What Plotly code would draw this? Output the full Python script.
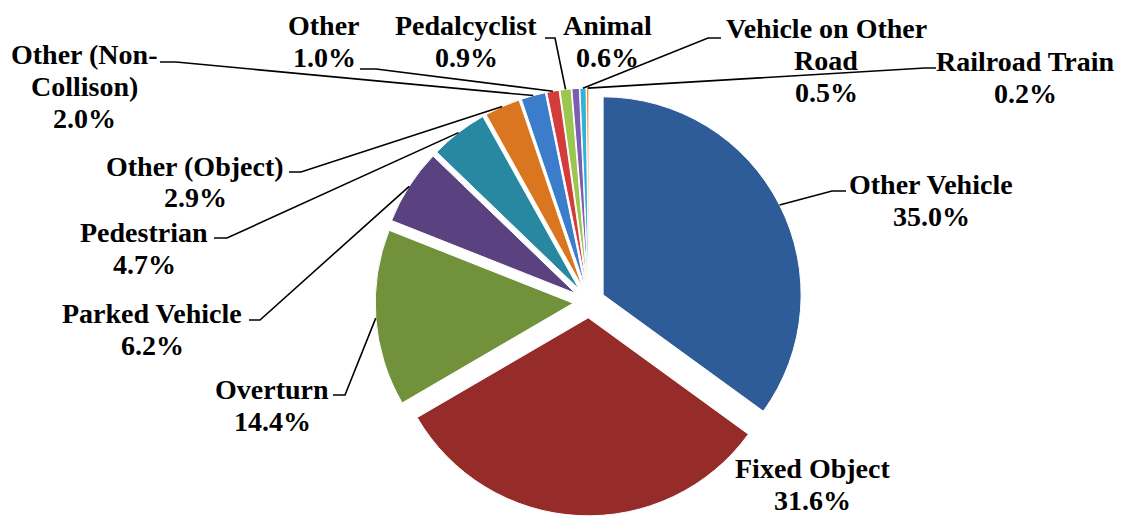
import numpy as np
import plotly.graph_objects as go

# data
categories = ["Other Vehicle", "Fixed Object", "Overturn", "Parked Vehicle", "Pedestrian",
              "Other (Object)", "Other (Non-Collison)", "Other", "Pedalcyclist", "Animal",
              "Vehicle on Other Road", "Railroad Train"]
shares = [35.0, 31.6, 14.4, 6.2, 4.7, 2.9, 2.0, 1.0, 0.9, 0.6, 0.5, 0.2]

# label text as it is wrapped in the original
label_lines = [["Other Vehicle"], ["Fixed Object"], ["Overturn"], ["Parked Vehicle"],
               ["Pedestrian"], ["Other (Object)"], ["Other (Non-", "Collison)"], ["Other"],
               ["Pedalcyclist"], ["Animal"], ["Vehicle on Other", "Road"], ["Railroad Train"]]

colors = ["#2E5C98", "#952C29", "#71913A", "#5A4180", "#2888A2", "#D9761F",
          "#3B7CCB", "#D33C3A", "#9BC64F", "#7D5DAF", "#32B1DC", "#F28E2B"]

# layout, in screen pixels (the page puts the figure 8px in from the corner)
W, H, OFF = 1126, 518, 8
CX, CY, R, PULL = 589, 302, 198, 0.08
LINE_STEP = 32

# centre of first text line (px) and leader elbow points (px), None = no leader
label_pos = [(931, 184), (812, 468), (272, 389), (152, 313), (144, 232), (195, 166),
             (84, 54), (324, 25), (466, 25), (607, 25), (826, 28), (1025, 61)]
elbows = [[(846, 191), (832, 191)], None, [(333, 395), (345, 395)],
          [(249, 320), (260, 320)], [(214, 238), (227, 238)], [(289, 172), (301, 172)],
          [(160, 62), (176, 62)], [(360, 69), (376, 69)], [(545, 38), (555, 38)],
          None, [(721, 38), (708, 38)], [(936, 68), (925, 68)]]


def fx(x):
    return (x - OFF) / W


def fy(y):
    return 1 - (y - OFF) / H


vals = np.array(shares)
start = np.concatenate([[0], np.cumsum(vals)[:-1]])
mid = (start + vals / 2) / vals.sum() * 2 * np.pi
ux, uy = np.sin(mid), -np.cos(mid)
anchor_x = CX + ux * R * (1 + PULL)
anchor_y = CY + uy * R * (1 + PULL)

half = R * (1 + PULL)
fig = go.Figure(go.Pie(
    labels=categories,
    values=shares,
    sort=False,
    direction="clockwise",
    rotation=0,
    pull=[PULL] * len(shares),
    marker=dict(colors=colors, line=dict(color="white", width=1)),
    textinfo="none",
    hoverinfo="label+percent",
    showlegend=False,
    domain=dict(x=[fx(CX - half), fx(CX + half)], y=[fy(CY + half), fy(CY - half)]),
))

shapes = []
annotations = []
for i, name in enumerate(categories):
    lx, ly = label_pos[i]
    lines = label_lines[i] + ["%.1f%%" % shares[i]]
    for k, txt in enumerate(lines):
        annotations.append(dict(
            x=fx(lx), y=fy(ly + k * LINE_STEP), xref="paper", yref="paper",
            xanchor="center", yanchor="middle", showarrow=False,
            text="<b>%s</b>" % txt,
            font=dict(family="Liberation Serif", size=28, color="black"),
        ))
    if elbows[i] is not None:
        pts = elbows[i] + [(anchor_x[i], anchor_y[i])]
        path = "M " + " L ".join("%.5f,%.5f" % (fx(x), fy(y)) for x, y in pts)
        shapes.append(dict(type="path", path=path, xref="paper", yref="paper",
                           line=dict(color="black", width=1.6)))

fig.update_layout(
    width=W, height=H,
    margin=dict(l=0, r=0, t=0, b=0),
    paper_bgcolor="white",
    plot_bgcolor="white",
    shapes=shapes,
    annotations=annotations,
)

fig.write_html("out.html")
